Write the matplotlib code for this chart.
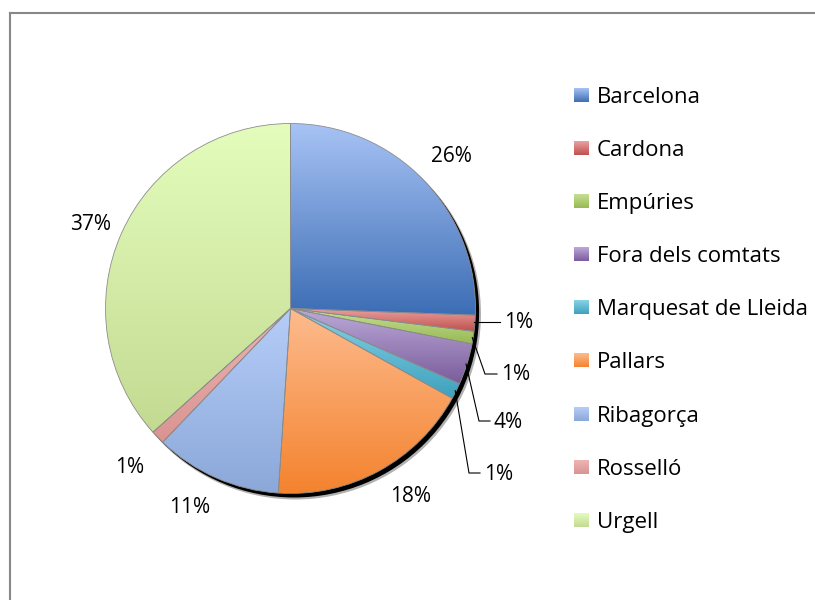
import numpy as np
import matplotlib
matplotlib.use("Agg")
import matplotlib.pyplot as plt
from matplotlib.colors import LinearSegmentedColormap
from matplotlib.patches import Circle
from matplotlib.lines import Line2D

# ---------------- data ----------------
regions = ["Barcelona", "Cardona", "Empúries", "Fora dels comtats",
           "Marquesat de Lleida", "Pallars", "Ribagorça", "Rosselló", "Urgell"]
shares = [25.6, 1.4, 1.1, 3.6, 1.4, 18.0, 11.1, 1.2, 36.7]

# ---------------- style ----------------
top_colors = ["#a8c3f5", "#eba3a0", "#c6e094", "#bcaad8", "#88d3e8",
              "#fdbb8e", "#b6cdf8", "#edb5b3", "#e4fdbc"]
bot_colors = ["#3c6db4", "#c0504d", "#98b954", "#7a5c9c", "#3ea1bc",
              "#f4832e", "#8ba8d9", "#d99491", "#c3da92"]

W, H = 815, 600
CX, CY, R = 290.5, 308.5, 185.0      # pie centre/radius in pixels
FONT = "Open Sans"
LEG_FS, PCT_FS = 16, 15
plt.rcParams["font.family"] = [FONT, "DejaVu Sans"]

fig = plt.figure(figsize=(W / 100, H / 100), dpi=100)
ax = fig.add_axes([0, 0, 1, 1])


def set_lims():
    ax.set_xlim(-CX / R, (W - CX) / R)
    ax.set_ylim(-(H - CY) / R, CY / R)
    ax.set_aspect("auto")


set_lims()
ax.axis("off")


def px(x, y):
    """pixel (from top-left) -> data coords"""
    return (x - CX) / R, (CY - y) / R


# shadow
ax.add_patch(Circle((5.0 / R, -5.5 / R), 1.0 + 0.5 / R, color="#000000", alpha=0.3, zorder=1, lw=0))
ax.add_patch(Circle((3.6 / R, -4.0 / R), 1.0, color="#000000", zorder=1, lw=0))

wedges, _ = ax.pie(shares, startangle=90, counterclock=False, radius=1.0,
                   center=(0, 0), frame=False,
                   wedgeprops=dict(linewidth=0.6, edgecolor="#8d8d8d"))
set_lims()

grad = np.linspace(0, 1, 256).reshape(-1, 1)
for w, ct, cb in zip(wedges, top_colors, bot_colors):
    ext = w.get_path().get_extents()
    cmap = LinearSegmentedColormap.from_list("g", [ct, cb])
    im = ax.imshow(grad, cmap=cmap, extent=[ext.x0, ext.x1, ext.y0, ext.y1],
                   origin="upper", aspect="auto", zorder=2, interpolation="bilinear")
    im.set_clip_path(w)
    w.set_facecolor("none")
    w.set_zorder(3)
set_lims()

# percentage labels
total = sum(shares)
pct_labels = [f"{round(v / total * 100):.0f}%" for v in shares]
# small slices on the right get leader lines: label left x, centre y (pixels)
callouts = {1: (504, 323), 2: (501, 375), 3: (494, 422), 4: (484, 474)}
elbow_dx = {1: None, 2: 16, 3: 15, 4: 15}
LABEL_DIST = 1.21
LABEL_DY = 3  # pixels down, to centre the glyphs like the reference
# Excel's label-placement nudges: (angle offset in degrees, distance offset)
nudges = {5: (4.4, -0.02), 6: (-3.4, -0.02), 8: (0.5, -0.03)}

for i, w in enumerate(wedges):
    mid_deg = (w.theta1 + w.theta2) / 2
    if i in callouts:
        mid = np.deg2rad(mid_deg)
        lx, ly = callouts[i]
        tx, ty = px(lx, ly)
        ax.text(tx, ty, pct_labels[i], ha="left", va="center", fontsize=PCT_FS,
                color="black", zorder=6)
        sx, sy = np.cos(mid) * 0.995, np.sin(mid) * 0.995
        end = px(lx - 4, ly - 1)
        if elbow_dx[i] is None:
            ax.add_line(Line2D([sx, end[0]], [end[1], end[1]], color="black", lw=0.8, zorder=6))
        else:
            el = px(lx - elbow_dx[i], ly - 1)
            ax.add_line(Line2D([sx, el[0], end[0]], [sy, el[1], end[1]],
                               color="black", lw=0.8, zorder=6))
    else:
        da, dd = nudges.get(i, (0.0, 0.0))
        mid = np.deg2rad(mid_deg + da)
        d = LABEL_DIST + dd
        ax.text(np.cos(mid) * d, np.sin(mid) * d - LABEL_DY / R,
                pct_labels[i], ha="center", va="center", fontsize=PCT_FS,
                color="black", zorder=6)

# legend (manual)
LEG_X_SQ, LEG_SQ_W, LEG_SQ_H = 574, 15, 14
LEG_X_TX, LEG_BASE0, LEG_STEP = 597, 103, 53.1
for i, (name, ct, cb) in enumerate(zip(regions, top_colors, bot_colors)):
    base = LEG_BASE0 + i * LEG_STEP
    x0, y1 = px(LEG_X_SQ, base - 15)
    x1, y0 = px(LEG_X_SQ + LEG_SQ_W, base - 15 + LEG_SQ_H)
    cmap = LinearSegmentedColormap.from_list("g", [ct, cb])
    ax.imshow(grad, cmap=cmap, extent=[x0, x1, y0, y1], origin="upper",
              aspect="auto", zorder=5)
    tx, ty = px(LEG_X_TX, base)
    ax.text(tx, ty, name, ha="left", va="baseline", fontsize=LEG_FS, color="black",
            zorder=6, clip_on=False)
set_lims()

# chart-area frame (extends past the right and bottom edges)
fig.add_artist(Line2D([10 / W, 10 / W], [0, 1 - 13 / H], transform=fig.transFigure,
                      color="#888888", lw=1.5))
fig.add_artist(Line2D([10 / W, 1], [1 - 13 / H, 1 - 13 / H], transform=fig.transFigure,
                      color="#888888", lw=1.5))

fig.savefig("out.png", dpi=100, facecolor="white")
